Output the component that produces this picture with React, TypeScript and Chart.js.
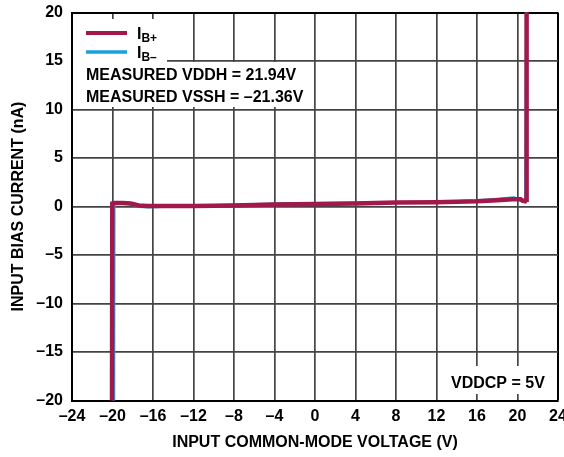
import React, { useEffect, useRef } from "react";
import { Chart, registerables } from "chart.js";

Chart.register(...registerables);

const ibPlusX = [-20.05, -20.02, -19.8, -19.0, -18.2, -17.4, -16.5, -14, -12, -8, -4, 0, 4, 8, 12, 16, 18, 19.5, 20.3, 20.5, 20.75, 20.85, 20.9];
const ibPlusY = [-21, 0.3, 0.35, 0.35, 0.3, 0.1, 0.05, 0.05, 0.05, 0.1, 0.2, 0.25, 0.3, 0.4, 0.45, 0.55, 0.65, 0.75, 0.75, 0.6, 0.55, 0.7, 21];
const ibMinusX = [-19.88, -19.85, -19.6, -19, -18.2, -17.4, -16.5, -15, -12, -8, -4, 0, 4, 8, 12, 16, 18, 19.6, 20.1, 20.5, 20.8, 20.88];
const ibMinusY = [-21, 0.25, 0.35, 0.35, 0.25, 0.0, -0.05, 0.0, 0.05, 0.15, 0.25, 0.3, 0.35, 0.4, 0.45, 0.6, 0.75, 0.9, 0.75, 0.55, 0.6, 21];

const xTitle = "INPUT COMMON-MODE VOLTAGE (V)";
const yTitle = "INPUT BIAS CURRENT (nA)";
const noteLines = ["MEASURED VDDH = 21.94V", "MEASURED VSSH = \u201321.36V"];
const cornerNote = "VDDCP = 5V";
const legendLabels = [{ main: "I", sub: "B+" }, { main: "I", sub: "B\u2013" }];

const RED = "#A3184A";
const BLUE = "#1BA1DB";
const FONT = '"Liberation Sans", Arial, sans-serif';

const fmt = (v: number) => (v < 0 ? "\u2013" + Math.abs(v) : String(v));

const annotations = {
  id: "annotations",
  beforeDatasetsDraw(chart: any) {
    const { ctx } = chart;
    ctx.save();
    ctx.fillStyle = "#ffffff";
    ctx.fillRect(73, 19, 94, 44);
    ctx.fillRect(73, 62, 240, 45);
    ctx.fillRect(441, 366, 114, 28);
    const items = [
      { color: RED, y: 33, w: 4 },
      { color: BLUE, y: 52, w: 3.5 },
    ];
    items.forEach((it, i) => {
      ctx.strokeStyle = it.color;
      ctx.lineWidth = it.w;
      ctx.beginPath();
      ctx.moveTo(86, it.y);
      ctx.lineTo(127, it.y);
      ctx.stroke();
      ctx.fillStyle = "#000";
      ctx.textBaseline = "alphabetic";
      ctx.textAlign = "left";
      ctx.font = "bold 16px " + FONT;
      ctx.fillText(legendLabels[i].main, 137, it.y + 5.5);
      const w = ctx.measureText(legendLabels[i].main).width;
      ctx.font = "bold 12px " + FONT;
      ctx.fillText(legendLabels[i].sub, 137 + w, it.y + 8.5);
    });
    ctx.font = "bold 16px " + FONT;
    ctx.fillStyle = "#000";
    ctx.fillText(noteLines[0], 86, 80);
    ctx.fillText(noteLines[1], 86, 101.5);
    ctx.fillText(cornerNote, 451, 388);
    ctx.restore();
  },
};

export default function App() {
  const ref = useRef<HTMLCanvasElement>(null);
  useEffect(() => {
    if (!ref.current) return;
    const edge = (ctx: any, isX: boolean) => {
      const v = ctx.tick?.value;
      if (isX) return v === 24 || v === -24 ? "#000" : "#444";
      return v === 20 || v === -20 ? "#000" : "#444";
    };
    const chart = new Chart(ref.current, {
      type: "scatter",
      data: {
        datasets: [
          {
            label: "IB+",
            data: ibPlusX.map((x, i) => ({ x, y: ibPlusY[i] })),
            borderColor: RED,
            backgroundColor: RED,
            borderWidth: 4.5,
            showLine: true,
            pointRadius: 0,
            tension: 0,
          },
          {
            label: "IB-",
            data: ibMinusX.map((x, i) => ({ x, y: ibMinusY[i] })),
            borderColor: BLUE,
            backgroundColor: BLUE,
            borderWidth: 3,
            showLine: true,
            pointRadius: 0,
            tension: 0,
          },
        ],
      },
      options: {
        responsive: false,
        animation: false,
        layout: { padding: { top: 12.5, right: 6, left: 0, bottom: 0 } },
        plugins: { legend: { display: false }, tooltip: { enabled: false } },
        scales: {
          x: {
            type: "linear",
            min: -24,
            max: 24,
            afterFit: (s: any) => {
              s.height = 56.5;
              s.paddingLeft = 0;
              s.paddingRight = 0;
            },
            ticks: {
              stepSize: 4,
              autoSkip: false,
              maxRotation: 0,
              padding: 6,
              color: "#000",
              font: { family: FONT, weight: "bold", size: 16 },
              callback: (v: any) => fmt(Number(v)),
            },
            grid: {
              color: (c: any) => edge(c, true),
              lineWidth: (c: any) => (c.tick?.value === 24 ? 2 : 1.7),
              drawTicks: false,
            },
            border: { color: "#000", width: 2 },
            title: {
              display: true,
              text: xTitle,
              color: "#000",
              font: { family: FONT, weight: "bold", size: 16 },
              padding: { top: 0, bottom: 5 },
            },
          },
          y: {
            type: "linear",
            min: -20,
            max: 20,
            afterFit: (s: any) => {
              s.width = 72;
              s.paddingTop = 0;
              s.paddingBottom = 0;
            },
            ticks: {
              stepSize: 5,
              autoSkip: false,
              padding: 9,
              color: "#000",
              font: { family: FONT, weight: "bold", size: 16 },
              callback: (v: any) => fmt(Number(v)),
            },
            grid: {
              color: (c: any) => edge(c, false),
              lineWidth: (c: any) => (c.tick?.value === 20 ? 2 : 1.7),
              drawTicks: false,
            },
            border: { color: "#000", width: 2 },
            title: {
              display: true,
              text: yTitle,
              color: "#000",
              font: { family: FONT, weight: "bold", size: 16 },
              padding: { top: 9, bottom: 0 },
            },
          },
        },
      },
      plugins: [annotations],
    } as any);
    return () => chart.destroy();
  }, []);
  return (
    <div style={{ position: "absolute", left: 0, top: 0, width: 564, height: 457, background: "#fff" }}>
      <canvas ref={ref} width={564} height={457} />
    </div>
  );
}
